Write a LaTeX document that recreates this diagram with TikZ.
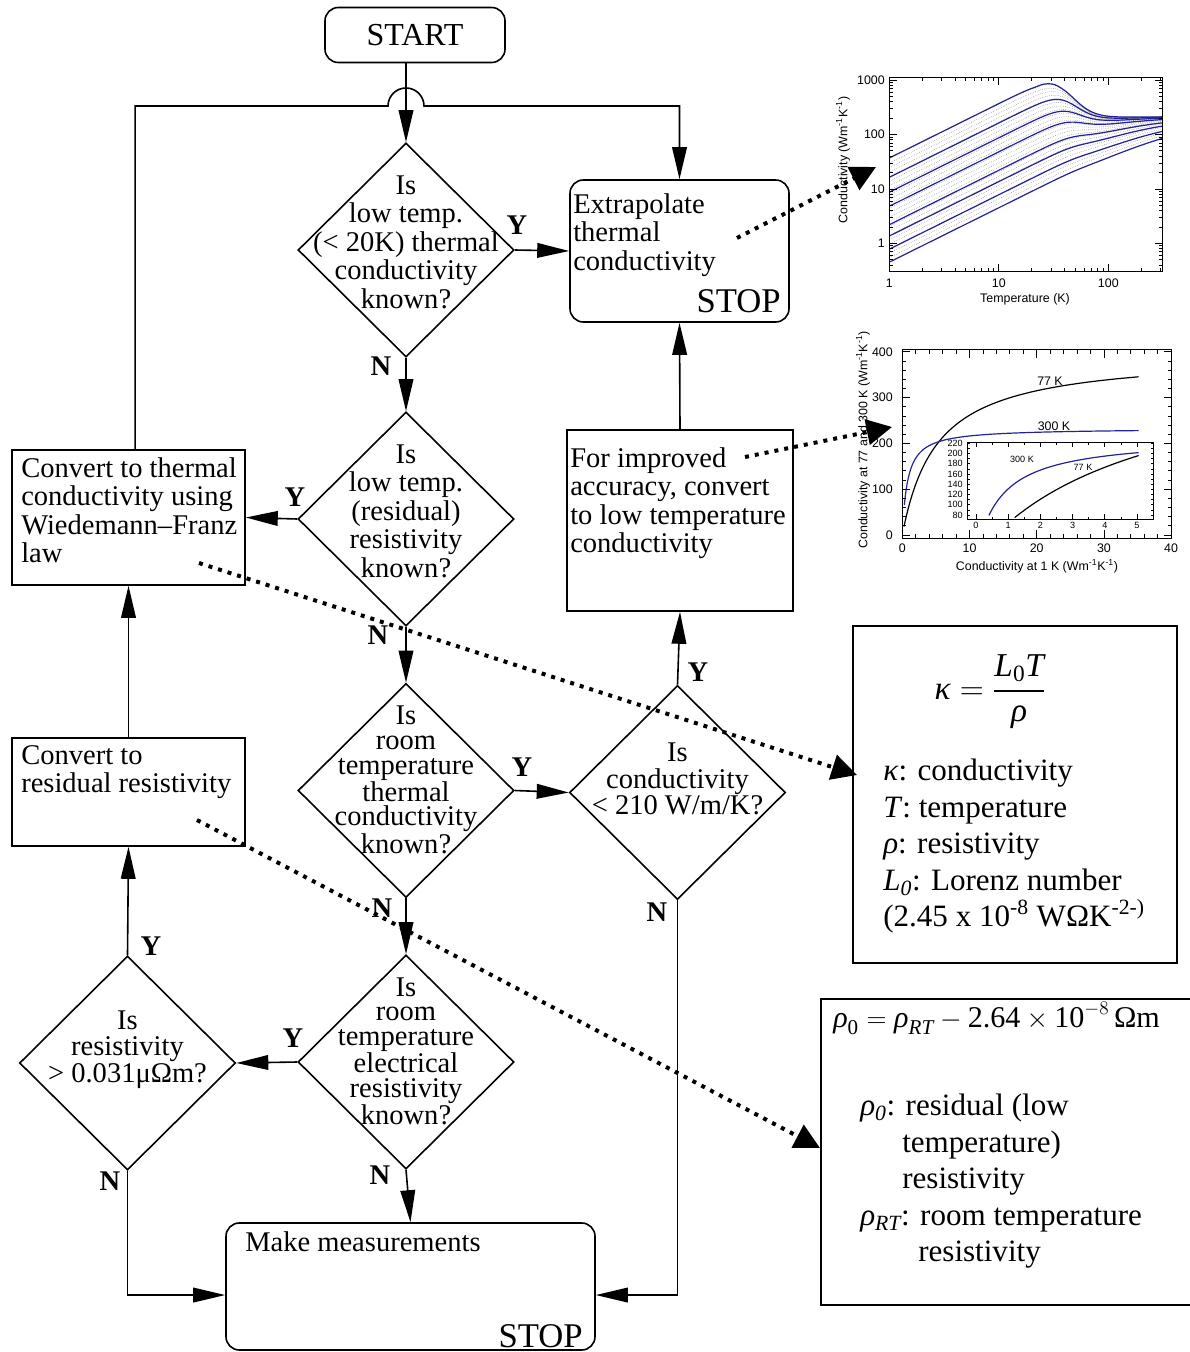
\documentclass[tikz,border=0pt]{standalone}
\usepackage{amsmath}
\usepackage{fontspec}
\setmainfont{Liberation Serif}
\newfontfamily\plotfont{Liberation Sans}
\usetikzlibrary{shapes.geometric, arrows.meta}
\definecolor{plotblue}{RGB}{35,35,150}
\newcommand{\flowfont}{\fontsize{21.4pt}{21.4pt}\selectfont}
\newcommand{\tightfont}{\fontsize{21.4pt}{18.4pt}\selectfont}
\newcommand{\midfont}{\fontsize{21.4pt}{20pt}\selectfont}
\newcommand{\startfont}{\fontsize{24pt}{24pt}\selectfont}
\newcommand{\stopfont}{\fontsize{26pt}{26pt}\selectfont}
\newcommand{\notefont}{\fontsize{23.3pt}{27.4pt}\selectfont}
\newcommand{\eqnfont}{\fontsize{25pt}{30pt}\selectfont}
\newcommand{\rhoeqnfont}{\fontsize{22.6pt}{27pt}\selectfont}
\newcommand{\axisfont}{\plotfont\fontsize{9.3pt}{10pt}\selectfont}
\newcommand{\insetfont}{\plotfont\fontsize{6.8pt}{7pt}\selectfont}
\tikzset{
  flowbox/.style={draw, line width=1.2pt, inner sep=0pt},
  roundbox/.style={flowbox, rounded corners=10pt},
  decision/.style={diamond, draw, line width=1.2pt, inner sep=0pt,
    minimum width=162pt, minimum height=160.5pt},
  dectext/.style={align=center, inner sep=0pt, font=\flowfont},
  boxtext/.style={anchor=north west, inner sep=0pt, align=left, font=\flowfont},
  stoptext/.style={anchor=base east, inner sep=0pt, font=\stopfont},
  yesno/.style={inner sep=0pt, font=\flowfont\bfseries},
  flowline/.style={line width=1.2pt},
  flowarrow/.style={flowline, -{Triangle[length=24pt, width=11pt]}},
  linkarrow/.style={-{Triangle[length=19pt, width=19pt]}, line width=3pt,
    dash pattern=on 3pt off 4.5pt},
  notetext/.style={anchor=north west, inner sep=0pt, align=left, font=\notefont},
  axisline/.style={draw, line width=0.6pt},
  axislabel/.style={inner sep=0pt, font=\axisfont},
  insetlabel/.style={inner sep=0pt, font=\insetfont},
  kcurve/.style={line width=0.9pt, draw=plotblue},
  kgrid/.style={line width=0.4pt, draw=gray, densely dotted},
}

\begin{document}
\begin{tikzpicture}[x=0.75pt, y=-0.75pt]
  \useasboundingbox (0,0) rectangle (1189,1352);

  \node[roundbox, minimum width=135pt, minimum height=41.25pt, font=\startfont] (start) at (415,35) {START};

  \node[decision, label={[dectext, yshift=6pt]center:{Is\\low temp.\\(< 20K) thermal\\conductivity\\known?}}] (lowk) at (406,250) {};
  \node[decision, label={[dectext, yshift=6pt]center:{Is\\low temp.\\(residual)\\resistivity\\known?}}] (lowrho) at (406,519) {};
  \node[decision, label={[dectext, font=\tightfont, yshift=8pt]center:{Is\\room\\temperature\\thermal\\conductivity\\known?}}] (rtk) at (406,790.5) {};
  \node[decision, label={[dectext, font=\midfont, yshift=10pt]center:{Is\\conductivity\\< 210 W/m/K?}}] (kcheck) at (677.5,792.5) {};
  \node[decision, label={[dectext, font=\tightfont, yshift=8pt]center:{Is\\room\\temperature\\electrical\\resistivity\\known?}}] (rtrho) at (406,1062) {};
  \node[decision, label={[dectext, font=\midfont, yshift=10pt]center:{Is\\resistivity\\> 0.031μΩm?}}] (rhocheck) at (127.5,1063) {};

  \node[roundbox, minimum width=164.25pt, minimum height=106.5pt] (extrap) at (679.5,251) {};
  \node[boxtext] (extraptext) at (573,193) {Extrapolate\\thermal\\conductivity};
  \node[stoptext] (extrapstop) at (781,312) {STOP};

  \node[flowbox, minimum width=169.5pt, minimum height=135.75pt] (improve) at (680,520.5) {};
  \node[boxtext] (improvetext) at (570,447) {For improved\\accuracy, convert\\to low temperature\\conductivity};

  \node[flowbox, minimum width=174.75pt, minimum height=101.25pt] (wfconv) at (128.5,517.5) {};
  \node[boxtext] (wfconvtext) at (21,457) {Convert to thermal\\conductivity using\\Wiedemann–Franz\\law};

  \node[flowbox, minimum width=174.75pt, minimum height=81pt] (resconv) at (128.5,792) {};
  \node[boxtext] (resconvtext) at (21,745) {Convert to\\residual resistivity};

  \node[roundbox, minimum width=276.75pt, minimum height=95.25pt] (measure) at (410.5,1286.5) {};
  \node[boxtext] (measuretext) at (245,1231) {Make measurements};
  \node[stoptext] (measurestop) at (583,1347) {STOP};

  \node[flowbox, minimum width=243pt, minimum height=252.75pt] (wfnote) at (1015,794.5) {};
  \node[inner sep=0pt, font=\eqnfont] (wflaw) at (990,692) {$\textit{κ} = \dfrac{\textit{L}_{\text{0}}\textit{T}}{\textit{ρ}}$};
  \node[notetext] (wfnotetext) at (883,759) {\textit{κ}: conductivity\\\textit{T}: temperature\\\textit{ρ}: resistivity\\\textit{L\textsubscript{0}}: Lorenz number\\(2.45 x 10\textsuperscript{-8} WΩK\textsuperscript{-2-)}};

  \node[flowbox, minimum width=280.5pt, minimum height=229.5pt] (rhonote) at (1008,1152) {};
  \node[anchor=base west, inner sep=0pt, font=\rhoeqnfont] (rholaw) at (833,1027) {$\textit{ρ}_{\text{0}} = \textit{ρ}_{\textit{RT}} - \text{2.64}\times\text{10}^{-8}\,\text{Ωm}$};
  \node[notetext] (rhonotetext) at (860,1094) {\textit{ρ\textsubscript{0}}: residual (low\\\hspace*{31.5pt}temperature)\\\hspace*{31.5pt}resistivity\\\textit{ρ\textsubscript{RT}}: room temperature\\\hspace*{43.5pt}resistivity};

  \node[yesno] (y1) at (517,225) {Y};
  \node[yesno] (n1) at (381,366) {N};
  \node[yesno] (y2) at (295,497) {Y};
  \node[yesno] (n2) at (378,635) {N};
  \node[yesno] (y3) at (522,767) {Y};
  \node[yesno] (n3) at (382,908) {N};
  \node[yesno] (y4) at (698,672) {Y};
  \node[yesno] (n4) at (657,912) {N};
  \node[yesno] (y5) at (293,1038) {Y};
  \node[yesno] (n5) at (380,1175) {N};
  \node[yesno] (y6) at (151,946) {Y};
  \node[yesno] (n6) at (110,1181) {N};

  \coordinate (hopL) at (388,106);
  \draw[flowarrow] (start.south -| lowk.north) -- (lowk.north);
  \draw[flowarrow] ([xshift=5pt]wfconv.north) |- (hopL) arc[start angle=180, end angle=360, radius=18] -| (extrap.north);
  \draw[flowarrow] (lowk.east) -- (extrap.west);
  \draw[flowarrow] (lowk.south) -- (lowrho.north);
  \draw[flowarrow] (lowrho.west) -- (wfconv.east);
  \draw[flowarrow] (lowrho.south) -- (rtk.north);
  \draw[flowarrow] (rtk.east) -- (kcheck.west);
  \draw[flowarrow] (rtk.south) -- (rtrho.north);
  \draw[flowarrow] (kcheck.north) -- (improve.south);
  \draw[flowarrow] (improve.north) -- (extrap.south);
  \draw[flowarrow] (kcheck.south) |- ([yshift=-6.4pt]measure.east);
  \draw[flowarrow] (rtrho.west) -- (rhocheck.east);
  \draw[flowarrow] (rtrho.south) -- (measure.north);
  \draw[flowarrow] (rhocheck.north) -- (resconv.south);
  \draw[flowarrow] (resconv.north) -- (wfconv.south);
  \draw[flowarrow] (rhocheck.south) |- ([yshift=-6.4pt]measure.west);

  \begin{scope}[shift={(889.3,243.3)}, xscale=109.5, yscale=-54.4]
    \foreach \k in {1,...,23} {
      \pgfmathsetmacro\ka{0.45*pow(1.21,\k)}
      \draw[kgrid] plot[domain=0:2.497, samples=36, smooth] (\x, {2-ln(100/(\ka*pow(10,\x))+0.465*pow(pow(10,\x)/55.6,4.5)/(1+pow(pow(10,\x)/55.6,4.5)))/ln(10)});
    }
    \foreach \ka in {37,16.3,8.7,4.8,2.2,1.36,0.78,0.45}
      \draw[kcurve] plot[domain=0:2.497, samples=44, smooth] (\x, {2-ln(100/(\ka*pow(10,\x))+0.465*pow(pow(10,\x)/55.6,4.5)/(1+pow(pow(10,\x)/55.6,4.5)))/ln(10)});
    \draw[axisline] (0,-0.522) rectangle (2.497,3.05);
    \foreach \d/\n in {0/9,1/9,2/3}
      \foreach \m in {2,...,\n} {
        \draw[axisline] ({\d+ln(\m)/ln(10)},-0.522) -- ++(0,0.074);
        \draw[axisline] ({\d+ln(\m)/ln(10)},3.05) -- ++(0,-0.074);
      }
    \foreach \d in {0,1,2} {
      \draw[axisline] (\d,-0.522) -- ++(0,0.147);
      \draw[axisline] (\d,3.05) -- ++(0,-0.147);
    }
    \foreach \d/\a in {-1/3,0/2,1/2,2/2}
      \foreach \m in {\a,...,9} {
        \draw[axisline] (0,{\d+ln(\m)/ln(10)}) -- ++(0.037,0);
        \draw[axisline] (2.497,{\d+ln(\m)/ln(10)}) -- ++(-0.037,0);
      }
    \foreach \d in {0,1,2,3} {
      \draw[axisline] (0,\d) -- ++(0.073,0);
      \draw[axisline] (2.497,\d) -- ++(-0.073,0);
    }
  \end{scope}
  \foreach \v/\p in {1/0,10/1,100/2}
    \node[axislabel, anchor=north] (tx\v) at ({889.3+109.5*\p},279) {\v};
  \foreach \v/\p in {1/0,10/1,100/2,1000/3}
    \node[axislabel, anchor=east] (ty\v) at (885,{243.3-54.4*\p}) {\v};
  \node[axislabel] (tempaxis) at (1025,299) {Temperature (K)};
  \node[axislabel, rotate=90] (kaxis) at (843,160) {Conductivity (Wm\textsuperscript{-1}K\textsuperscript{-1})};

  \begin{scope}[shift={(902.3,535)}, xscale=6.72, yscale=-0.458]
    \draw[axisline] (0,-7) rectangle (40.1,405);
    \draw[line width=0.9pt] plot[domain=-1.39:3.56, samples=60, smooth] ({exp(\x)}, {396/(1+5.143/exp(\x))});
    \draw[kcurve] plot[domain=-1.2:3.56, samples=60, smooth] ({exp(\x)}, {233/(1+0.7767/exp(\x))});
    \foreach \v in {0,2,...,40} {
      \draw[axisline] (\v,-7) -- ++(0,8.7);
      \draw[axisline] (\v,405) -- ++(0,-8.7);
    }
    \foreach \v in {0,10,...,40} {
      \draw[axisline] (\v,-7) -- ++(0,17.5);
      \draw[axisline] (\v,405) -- ++(0,-17.5);
    }
    \foreach \v in {0,20,...,400} {
      \draw[axisline] (0,\v) -- ++(0.6,0);
      \draw[axisline] (40.1,\v) -- ++(-0.6,0);
    }
    \foreach \v in {0,100,...,400} {
      \draw[axisline] (0,\v) -- ++(1.19,0);
      \draw[axisline] (40.1,\v) -- ++(-1.19,0);
    }
  \end{scope}
  \foreach \v in {0,100,...,400}
    \node[axislabel, anchor=east] (ky\v) at (893,{535-0.458*\v}) {\v};
  \foreach \v in {0,10,...,40}
    \node[axislabel, anchor=north] (kx\v) at ({902.3+6.72*\v},544) {\v};
  \node[axislabel] (k1axis) at (1037,566) {Conductivity at 1 K (Wm\textsuperscript{-1}K\textsuperscript{-1})};
  \node[axislabel, rotate=90] (k77axis) at (863,440) {Conductivity at 77 and 300 K (Wm\textsuperscript{-1}K\textsuperscript{-1})};
  \node[axislabel] (lab77) at (1050,381) {77 K};
  \node[axislabel] (lab300) at (1054,426) {300 K};

  \begin{scope}[shift={(976,556)}, xscale=32.2, yscale=-0.512]
    \fill[white] (-0.28,72.2) rectangle (5.5,222.6);
    \draw[axisline] (-0.28,72.2) rectangle (5.5,222.6);
    \draw[kcurve] plot[domain=-0.916:1.62, samples=40, smooth] ({exp(\x)}, {233/(1+0.7767/exp(\x))});
    \draw[line width=0.9pt] plot[domain=0.182:1.62, samples=30, smooth] ({exp(\x)}, {396/(1+5.143/exp(\x))});
    \foreach \v in {0,0.5,...,5.5} {
      \draw[axisline] (\v,72.2) -- ++(0,4.9);
      \draw[axisline] (\v,222.6) -- ++(0,-4.9);
    }
    \foreach \v in {0,...,5} {
      \draw[axisline] (\v,72.2) -- ++(0,9.8);
      \draw[axisline] (\v,222.6) -- ++(0,-9.8);
    }
    \foreach \v in {80,90,...,220} {
      \draw[axisline] (-0.28,\v) -- ++(0.078,0);
      \draw[axisline] (5.5,\v) -- ++(-0.078,0);
    }
  \end{scope}
  \foreach \v in {80,100,...,220}
    \node[insetlabel, anchor=east] (iy\v) at (963,{515-0.512*(\v-80)}) {\v};
  \foreach \v in {0,...,5}
    \node[insetlabel, anchor=north] (ix\v) at ({976+32.2*\v},522) {\v};
  \node[insetlabel] (ilab300) at (1022,459) {300 K};
  \node[insetlabel] (ilab77) at (1083,467) {77 K};

  \coordinate (exlink) at (737,238);
  \coordinate (plot1tip) at (876,167);
  \coordinate (imlink) at (745,457);
  \coordinate (plot2tip) at (892,427);
  \coordinate (wflink) at (199,563);
  \coordinate (wftip) at (857,775);
  \coordinate (rrlink) at (197,820);
  \coordinate (rrtip) at (820,1148);
  \draw[linkarrow] (exlink) -- (plot1tip);
  \draw[linkarrow] (imlink) -- (plot2tip);
  \draw[linkarrow] (wflink) -- (wftip);
  \draw[linkarrow] (rrlink) -- (rrtip);
\end{tikzpicture}
\end{document}
